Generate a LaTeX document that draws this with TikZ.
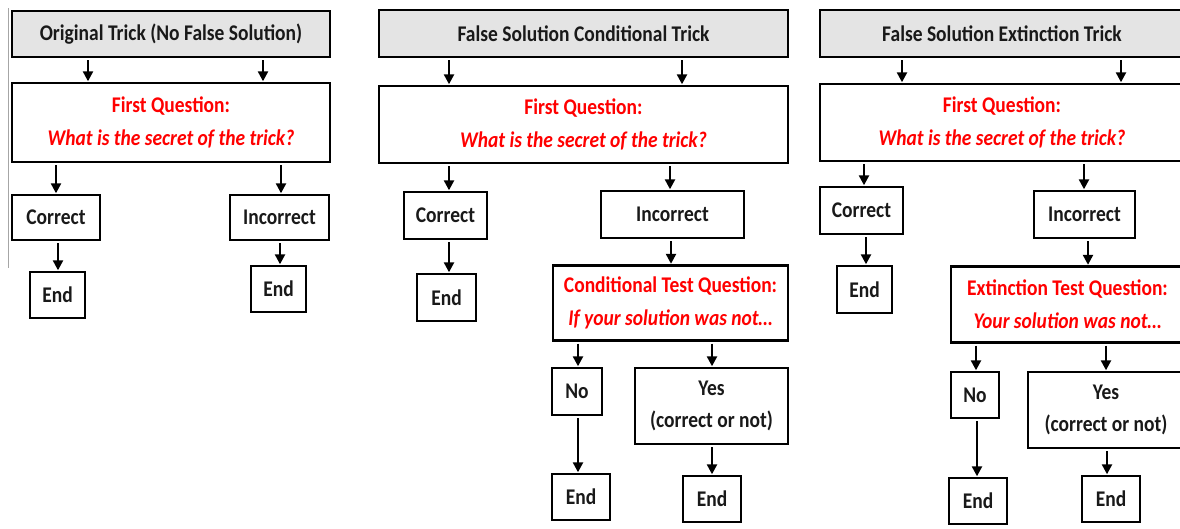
\documentclass[tikz,border=0pt]{standalone}
\usepackage{fontspec}
\setmainfont{Carlito}[FakeStretch=0.87]
\usetikzlibrary{arrows.meta}
\definecolor{titlegray}{HTML}{E4E4E4}
\definecolor{qred}{HTML}{FF0000}
\tikzset{
  box/.style={draw=black, line width=2.4pt, inner sep=0pt, align=center,
    font=\bfseries\fontsize{22.4}{33}\selectfont, text=black!90},
  titlebox/.style={box, fill=titlegray},
  qtext/.style={text=qred},
  arr/.style={line width=2.3pt, -{Triangle[width=10pt,length=10pt]}, shorten <=2pt, shorten >=0.5pt}
}
\begin{document}
\begin{tikzpicture}[x=1pt,y=-1pt]
\useasboundingbox (0,0) rectangle (1180,528);
\clip (0,0) rectangle (1180,528);
\fill[white] (0,0) rectangle (1180,528);
% thin edge line
\draw[gray!70, line width=0.8pt] (8,8) -- (8,268);

% ---------------- Panel 1 ----------------
\node[titlebox, minimum width=318pt, minimum height=46pt] (T1) at (171,34) {Original Trick (No False Solution)};
\node[box, qtext, minimum width=318pt, minimum height=79pt] (Q1) at (171,122.5) {First Question:\\\itshape What is the secret of the trick?};
\node[box, minimum width=88pt, minimum height=45pt] (C1) at (56,217.5) {Correct};
\node[box, minimum width=99pt, minimum height=45pt] (I1) at (279.5,217.5) {Incorrect};
\node[box, minimum width=55pt, minimum height=46pt] (E1a) at (57.5,295) {End};
\node[box, minimum width=55pt, minimum height=46pt] (E1b) at (278.5,289) {End};
\coordinate (p1a) at (88,0);
\coordinate (p1b) at (263,0);
\coordinate (p1c) at (56,0);
\coordinate (p1d) at (281,0);
\coordinate (p1e) at (58,0);
\coordinate (p1f) at (280,0);
\draw[arr] (T1.south -| p1a) -- (Q1.north -| p1a);
\draw[arr] (T1.south -| p1b) -- (Q1.north -| p1b);
\draw[arr] (Q1.south -| p1c) -- (C1.north -| p1c);
\draw[arr] (Q1.south -| p1d) -- (I1.north -| p1d);
\draw[arr] (C1.south -| p1e) -- (E1a.north -| p1e);
\draw[arr] (I1.south -| p1f) -- (E1b.north -| p1f);

% ---------------- Panel 2 ----------------
\node[titlebox, minimum width=409pt, minimum height=47pt] (T2) at (583.5,33.5) {False Solution Conditional Trick};
\node[box, qtext, minimum width=409pt, minimum height=77pt] (Q2) at (583.5,124.5) {First Question:\\\itshape What is the secret of the trick?};
\node[box, minimum width=83pt, minimum height=47pt] (C2) at (445.5,215.5) {Correct};
\node[box, minimum width=143pt, minimum height=47pt] (I2) at (672.5,214.5) {Incorrect};
\node[box, minimum width=59pt, minimum height=47pt] (E2a) at (446.5,297.5) {End};
\node[box, qtext, minimum width=235pt, minimum height=75pt] (CQ2) at (670.5,303) {Conditional Test Question:\\\itshape If your solution was not\ldots};
\node[box, minimum width=50pt, minimum height=47pt] (N2) at (577,391.5) {No};
\node[box, minimum width=153pt, minimum height=76pt, font=\bfseries\fontsize{22.4}{32}\selectfont] (Y2) at (711.5,406) {Yes\\(correct or not)};
\node[box, minimum width=58pt, minimum height=46pt] (E2b) at (581,497) {End};
\node[box, minimum width=58pt, minimum height=46pt] (E2c) at (712,499) {End};
\coordinate (p2a) at (449,0);
\coordinate (p2b) at (682,0);
\coordinate (p2c) at (670,0);
\coordinate (p2d) at (671,0);
\coordinate (p2e) at (578,0);
\coordinate (p2f) at (712,0);
\draw[arr] (T2.south -| p2a) -- (Q2.north -| p2a);
\draw[arr] (T2.south -| p2b) -- (Q2.north -| p2b);
\draw[arr] (Q2.south -| p2a) -- (C2.north -| p2a);
\draw[arr] (Q2.south -| p2c) -- (I2.north -| p2c);
\draw[arr] (C2.south -| p2a) -- (E2a.north -| p2a);
\draw[arr] (I2.south -| p2d) -- (CQ2.north -| p2d);
\draw[arr] (CQ2.south -| p2e) -- (N2.north -| p2e);
\draw[arr] (CQ2.south -| p2f) -- (Y2.north -| p2f);
\draw[arr] (N2.south -| p2e) -- (E2b.north -| p2e);
\draw[arr] (Y2.south -| p2f) -- (E2c.north -| p2f);

% ---------------- Panel 3 ----------------
\node[titlebox, minimum width=364pt, minimum height=47pt] (T3) at (1002,33.5) {False Solution Extinction Trick};
\node[box, qtext, minimum width=364pt, minimum height=77pt] (Q3) at (1002,122.5) {First Question:\\\itshape What is the secret of the trick?};
\node[box, minimum width=83pt, minimum height=47pt] (C3) at (861.5,210.5) {Correct};
\node[box, minimum width=101pt, minimum height=47pt] (I3) at (1084.5,214.5) {Incorrect};
\node[box, minimum width=55pt, minimum height=47pt] (E3a) at (864.5,289.5) {End};
\node[box, qtext, minimum width=233pt, minimum height=76pt] (XQ3) at (1067.5,304.5) {Extinction Test Question:\\\itshape Your solution was not\ldots};
\node[box, minimum width=48pt, minimum height=46pt] (N3) at (975,395) {No};
\node[box, minimum width=156pt, minimum height=76pt, font=\bfseries\fontsize{22.4}{32}\selectfont] (Y3) at (1106,410) {Yes\\(correct or not)};
\node[box, minimum width=58pt, minimum height=46pt] (E3b) at (978,501) {End};
\node[box, minimum width=58pt, minimum height=46pt] (E3c) at (1111,499) {End};
\coordinate (p3a) at (902,0);
\coordinate (p3b) at (1121,0);
\coordinate (p3c) at (864,0);
\coordinate (p3d) at (1084,0);
\coordinate (p3e) at (866,0);
\coordinate (p3f) at (1088,0);
\coordinate (p3g) at (976,0);
\coordinate (p3h) at (1106,0);
\coordinate (p3i) at (977,0);
\coordinate (p3j) at (1107,0);
\draw[arr] (T3.south -| p3a) -- (Q3.north -| p3a);
\draw[arr] (T3.south -| p3b) -- (Q3.north -| p3b);
\draw[arr] (Q3.south -| p3c) -- (C3.north -| p3c);
\draw[arr] (Q3.south -| p3d) -- (I3.north -| p3d);
\draw[arr] (C3.south -| p3e) -- (E3a.north -| p3e);
\draw[arr] (I3.south -| p3f) -- (XQ3.north -| p3f);
\draw[arr] (XQ3.south -| p3g) -- (N3.north -| p3g);
\draw[arr] (XQ3.south -| p3h) -- (Y3.north -| p3h);
\draw[arr] (N3.south -| p3i) -- (E3b.north -| p3i);
\draw[arr] (Y3.south -| p3j) -- (E3c.north -| p3j);
\end{tikzpicture}
\end{document}
